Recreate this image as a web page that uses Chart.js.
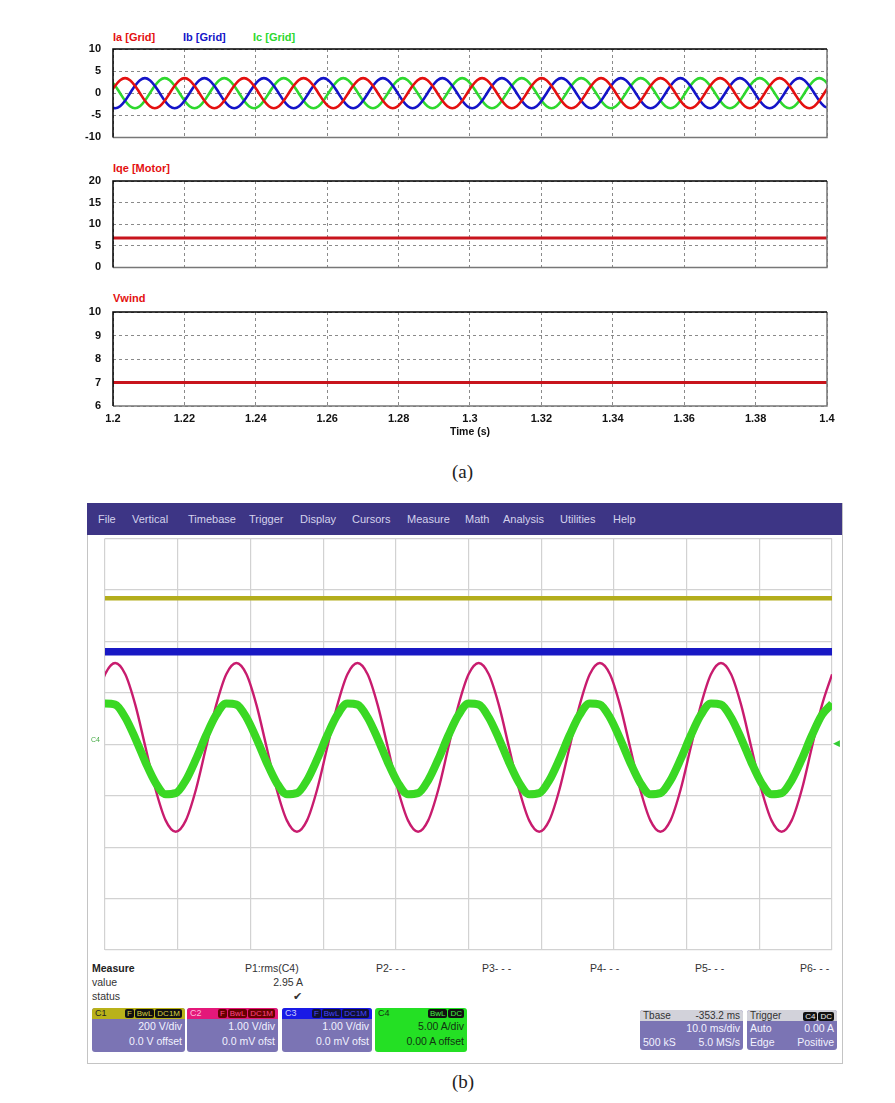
<!DOCTYPE html>
<html>
<head>
<meta charset="utf-8">
<script src="https://cdn.jsdelivr.net/npm/chart.js@4.4.1/dist/chart.umd.min.js"></script>
<style>
body { margin:0; width:895px; height:1103px; background:#fff; position:relative; overflow:hidden; font-family:"Liberation Sans", Arial, sans-serif; }
canvas { position:absolute; }
.lbl { position:absolute; font-weight:bold; font-size:11px; line-height:12px; }
.cap { position:absolute; font-family:"Liberation Serif", serif; font-size:19px; color:#222; }
.menu { position:absolute; left:87px; top:503px; width:755px; height:32px; background:#3d3585; }
.menu span { position:absolute; top:10px; font-size:11px; color:#d4d2ec; }
.meas { position:absolute; font-size:10.5px; color:#333; line-height:12px; }
.box { position:absolute; top:1008px; height:44px; border-radius:3px; overflow:hidden; background:#7b74b4; color:#f2f2ff; font-size:10.5px; }
.box .hd { height:11px; line-height:11px; font-size:9px; padding:0 3px; display:flex; justify-content:space-between; align-items:center; }
.box .hd i { font-style:normal; background:#111; border-radius:2px; padding:0 2px; margin-left:1px; font-size:8px; line-height:9px; }
.box .ln { display:flex; justify-content:space-between; padding:0 3px; line-height:15px; }
</style>
</head>
<body>

<div class="lbl" style="left:113px;top:31px;color:#e41010;">Ia [Grid]</div>
<div class="lbl" style="left:183px;top:31px;color:#1414c8;">Ib [Grid]</div>
<div class="lbl" style="left:253px;top:31px;color:#2ed82e;">Ic [Grid]</div>
<div class="lbl" style="left:113px;top:162px;color:#e41010;">Iqe [Motor]</div>
<div class="lbl" style="left:113px;top:292px;color:#e41010;">Vwind</div>

<canvas id="sim1" width="800" height="126" style="left:50px;top:30px;"></canvas>
<canvas id="sim2" width="800" height="126" style="left:50px;top:160px;"></canvas>
<canvas id="sim3" width="800" height="150" style="left:50px;top:290px;"></canvas>

<div class="cap" style="left:452px;top:461px;">(a)</div>

<div style="position:absolute;left:87px;top:503px;width:754px;height:559px;border:1px solid #c4c4c4;"></div>
<div class="menu">
  <span style="left:11px;">File</span>
  <span style="left:45px;">Vertical</span>
  <span style="left:101px;">Timebase</span>
  <span style="left:162px;">Trigger</span>
  <span style="left:213px;">Display</span>
  <span style="left:265px;">Cursors</span>
  <span style="left:320px;">Measure</span>
  <span style="left:378px;">Math</span>
  <span style="left:416px;">Analysis</span>
  <span style="left:473px;">Utilities</span>
  <span style="left:526px;">Help</span>
</div>

<canvas id="scope" width="754" height="416" style="left:87px;top:536px;"></canvas>
<div style="position:absolute;left:91px;top:736px;font-size:7px;color:#4a4;">C4</div>
<div style="position:absolute;left:833px;top:738px;font-size:9px;color:#3c3;">&#9664;</div>

<div class="meas" style="left:92px;top:962px;font-weight:bold;color:#222;">Measure</div>
<div class="meas" style="left:92px;top:976px;">value</div>
<div class="meas" style="left:92px;top:990px;">status</div>
<div class="meas" style="left:245px;top:962px;">P1:rms(C4)</div>
<div class="meas" style="left:262px;top:976px;width:41px;text-align:right;">2.95 A</div>
<div class="meas" style="left:293px;top:990px;font-size:11px;">&#10004;</div>
<div class="meas" style="left:376px;top:962px;">P2- - -</div>
<div class="meas" style="left:482px;top:962px;">P3- - -</div>
<div class="meas" style="left:590px;top:962px;">P4- - -</div>
<div class="meas" style="left:695px;top:962px;">P5- - -</div>
<div class="meas" style="left:800px;top:962px;">P6- - -</div>

<div class="box" style="left:92px;width:93px;">
  <div class="hd" style="background:#b9b21a;color:#222;"><span>C1</span><span><i style="color:#d8d040;">F</i><i style="color:#d8d040;">BwL</i><i style="color:#d8d040;">DC1M</i></span></div>
  <div class="ln"><span></span><span>200 V/div</span></div>
  <div class="ln"><span></span><span>0.0 V offset</span></div>
</div>
<div class="box" style="left:187px;width:91px;">
  <div class="hd" style="background:#e4187a;color:#fbd;"><span>C2</span><span><i style="color:#f48;background:#600;">F</i><i style="color:#f48;background:#600;">BwL</i><i style="color:#f48;background:#600;">DC1M</i></span></div>
  <div class="ln"><span></span><span>1.00 V/div</span></div>
  <div class="ln"><span></span><span>0.0 mV ofst</span></div>
</div>
<div class="box" style="left:282px;width:90px;">
  <div class="hd" style="background:#1a1ae6;color:#ccf;"><span>C3</span><span><i style="color:#44f;background:#113;">F</i><i style="color:#44f;background:#113;">BwL</i><i style="color:#44f;background:#113;">DC1M</i></span></div>
  <div class="ln"><span></span><span>1.00 V/div</span></div>
  <div class="ln"><span></span><span>0.0 mV ofst</span></div>
</div>
<div class="box" style="left:375px;width:92px;background:#24e024;color:#113311;">
  <div class="hd" style="color:#113311;"><span>C4</span><span><i style="color:#4e4;">BwL</i><i style="color:#4e4;">DC</i></span></div>
  <div class="ln"><span></span><span>5.00 A/div</span></div>
  <div class="ln"><span></span><span>0.00 A offset</span></div>
</div>
<div class="box" style="left:640px;top:1010px;width:103px;height:40px;">
  <div class="hd" style="background:#d2d2da;color:#333;font-size:10px;"><span>Tbase</span><span>-353.2 ms</span></div>
  <div class="ln" style="line-height:14px;"><span></span><span>10.0 ms/div</span></div>
  <div class="ln" style="line-height:14px;"><span>500 kS</span><span>5.0 MS/s</span></div>
</div>
<div class="box" style="left:747px;top:1010px;width:90px;height:40px;">
  <div class="hd" style="background:#d2d2da;color:#333;font-size:10px;"><span>Trigger</span><span><i style="color:#eee;">C4</i><i style="color:#eee;">DC</i></span></div>
  <div class="ln" style="line-height:14px;"><span>Auto</span><span>0.00 A</span></div>
  <div class="ln" style="line-height:14px;"><span>Edge</span><span>Positive</span></div>
</div>

<div class="cap" style="left:452px;top:1071px;">(b)</div>

<script>
// (a) simulation: grid currents, sampled every 30 deg of a 60 Hz cycle
var simTime = [
  1.19921, 1.20060, 1.20199, 1.20338, 1.20477, 1.20616, 1.20755, 1.20894, 1.21032, 1.21171, 1.21310, 1.21449,
  1.21588, 1.21727, 1.21866, 1.22005, 1.22144, 1.22282, 1.22421, 1.22560, 1.22699, 1.22838, 1.22977, 1.23116,
  1.23255, 1.23394, 1.23533, 1.23671, 1.23810, 1.23949, 1.24088, 1.24227, 1.24366, 1.24505, 1.24644, 1.24782,
  1.24921, 1.25060, 1.25199, 1.25338, 1.25477, 1.25616, 1.25755, 1.25894, 1.26032, 1.26171, 1.26310, 1.26449,
  1.26588, 1.26727, 1.26866, 1.27005, 1.27144, 1.27282, 1.27421, 1.27560, 1.27699, 1.27838, 1.27977, 1.28116,
  1.28255, 1.28394, 1.28533, 1.28671, 1.28810, 1.28949, 1.29088, 1.29227, 1.29366, 1.29505, 1.29644, 1.29782,
  1.29921, 1.30060, 1.30199, 1.30338, 1.30477, 1.30616, 1.30755, 1.30894, 1.31032, 1.31171, 1.31310, 1.31449,
  1.31588, 1.31727, 1.31866, 1.32005, 1.32144, 1.32282, 1.32421, 1.32560, 1.32699, 1.32838, 1.32977, 1.33116,
  1.33255, 1.33394, 1.33533, 1.33671, 1.33810, 1.33949, 1.34088, 1.34227, 1.34366, 1.34505, 1.34644, 1.34782,
  1.34921, 1.35060, 1.35199, 1.35338, 1.35477, 1.35616, 1.35755, 1.35894, 1.36032, 1.36171, 1.36310, 1.36449,
  1.36588, 1.36727, 1.36866, 1.37005, 1.37144, 1.37282, 1.37421, 1.37560, 1.37699, 1.37838, 1.37977, 1.38116,
  1.38255, 1.38394, 1.38533, 1.38671, 1.38810, 1.38949, 1.39088, 1.39227, 1.39366, 1.39505, 1.39644, 1.39782,
  1.39921, 1.40060
];
var iaGrid = [
  0, 1.7, 2.94, 3.4, 2.94, 1.7, 0, -1.7, -2.94, -3.4, -2.94, -1.7,
  0, 1.7, 2.94, 3.4, 2.94, 1.7, 0, -1.7, -2.94, -3.4, -2.94, -1.7,
  0, 1.7, 2.94, 3.4, 2.94, 1.7, 0, -1.7, -2.94, -3.4, -2.94, -1.7,
  0, 1.7, 2.94, 3.4, 2.94, 1.7, 0, -1.7, -2.94, -3.4, -2.94, -1.7,
  0, 1.7, 2.94, 3.4, 2.94, 1.7, 0, -1.7, -2.94, -3.4, -2.94, -1.7,
  0, 1.7, 2.94, 3.4, 2.94, 1.7, 0, -1.7, -2.94, -3.4, -2.94, -1.7,
  0, 1.7, 2.94, 3.4, 2.94, 1.7, 0, -1.7, -2.94, -3.4, -2.94, -1.7,
  0, 1.7, 2.94, 3.4, 2.94, 1.7, 0, -1.7, -2.94, -3.4, -2.94, -1.7,
  0, 1.7, 2.94, 3.4, 2.94, 1.7, 0, -1.7, -2.94, -3.4, -2.94, -1.7,
  0, 1.7, 2.94, 3.4, 2.94, 1.7, 0, -1.7, -2.94, -3.4, -2.94, -1.7,
  0, 1.7, 2.94, 3.4, 2.94, 1.7, 0, -1.7, -2.94, -3.4, -2.94, -1.7,
  0, 1.7, 2.94, 3.4, 2.94, 1.7, 0, -1.7, -2.94, -3.4, -2.94, -1.7,
  0, 1.7
];
var ibGrid = [
  -2.94, -3.4, -2.94, -1.7, 0, 1.7, 2.94, 3.4, 2.94, 1.7, 0, -1.7,
  -2.94, -3.4, -2.94, -1.7, 0, 1.7, 2.94, 3.4, 2.94, 1.7, 0, -1.7,
  -2.94, -3.4, -2.94, -1.7, 0, 1.7, 2.94, 3.4, 2.94, 1.7, 0, -1.7,
  -2.94, -3.4, -2.94, -1.7, 0, 1.7, 2.94, 3.4, 2.94, 1.7, 0, -1.7,
  -2.94, -3.4, -2.94, -1.7, 0, 1.7, 2.94, 3.4, 2.94, 1.7, 0, -1.7,
  -2.94, -3.4, -2.94, -1.7, 0, 1.7, 2.94, 3.4, 2.94, 1.7, 0, -1.7,
  -2.94, -3.4, -2.94, -1.7, 0, 1.7, 2.94, 3.4, 2.94, 1.7, 0, -1.7,
  -2.94, -3.4, -2.94, -1.7, 0, 1.7, 2.94, 3.4, 2.94, 1.7, 0, -1.7,
  -2.94, -3.4, -2.94, -1.7, 0, 1.7, 2.94, 3.4, 2.94, 1.7, 0, -1.7,
  -2.94, -3.4, -2.94, -1.7, 0, 1.7, 2.94, 3.4, 2.94, 1.7, 0, -1.7,
  -2.94, -3.4, -2.94, -1.7, 0, 1.7, 2.94, 3.4, 2.94, 1.7, 0, -1.7,
  -2.94, -3.4, -2.94, -1.7, 0, 1.7, 2.94, 3.4, 2.94, 1.7, 0, -1.7,
  -2.94, -3.4
];
var icGrid = [
  2.94, 1.7, 0, -1.7, -2.94, -3.4, -2.94, -1.7, 0, 1.7, 2.94, 3.4,
  2.94, 1.7, 0, -1.7, -2.94, -3.4, -2.94, -1.7, 0, 1.7, 2.94, 3.4,
  2.94, 1.7, 0, -1.7, -2.94, -3.4, -2.94, -1.7, 0, 1.7, 2.94, 3.4,
  2.94, 1.7, 0, -1.7, -2.94, -3.4, -2.94, -1.7, 0, 1.7, 2.94, 3.4,
  2.94, 1.7, 0, -1.7, -2.94, -3.4, -2.94, -1.7, 0, 1.7, 2.94, 3.4,
  2.94, 1.7, 0, -1.7, -2.94, -3.4, -2.94, -1.7, 0, 1.7, 2.94, 3.4,
  2.94, 1.7, 0, -1.7, -2.94, -3.4, -2.94, -1.7, 0, 1.7, 2.94, 3.4,
  2.94, 1.7, 0, -1.7, -2.94, -3.4, -2.94, -1.7, 0, 1.7, 2.94, 3.4,
  2.94, 1.7, 0, -1.7, -2.94, -3.4, -2.94, -1.7, 0, 1.7, 2.94, 3.4,
  2.94, 1.7, 0, -1.7, -2.94, -3.4, -2.94, -1.7, 0, 1.7, 2.94, 3.4,
  2.94, 1.7, 0, -1.7, -2.94, -3.4, -2.94, -1.7, 0, 1.7, 2.94, 3.4,
  2.94, 1.7, 0, -1.7, -2.94, -3.4, -2.94, -1.7, 0, 1.7, 2.94, 3.4,
  2.94, 1.7
];
var flatTime = [1.2, 1.4];
var iqeMotor = [6.8, 6.8];
var vWind = [7, 7];

// (b) scope traces, time in ms (10 ms/div), values in divisions from centre
var scopeTime = [
  -2.77, -1.38, 0.01, 1.40, 2.79, 4.18, 5.57, 6.96, 8.34, 9.73, 11.12, 12.51,
  13.90, 15.29, 16.68, 18.07, 19.46, 20.84, 22.23, 23.62, 25.01, 26.40, 27.79, 29.18,
  30.57, 31.96, 33.35, 34.73, 36.12, 37.51, 38.90, 40.29, 41.68, 43.07, 44.46, 45.85,
  47.23, 48.62, 50.01, 51.40, 52.79, 54.18, 55.57, 56.96, 58.34, 59.73, 61.12, 62.51,
  63.90, 65.29, 66.68, 68.07, 69.46, 70.84, 72.23, 73.62, 75.01, 76.40, 77.79, 79.18,
  80.57, 81.96, 83.35, 84.73, 86.12, 87.51, 88.90, 90.29, 91.68, 93.07, 94.46, 95.85,
  97.23, 98.62, 100.01
];
var c2Trace = [
  -0.06, 0.76, 1.36, 1.58, 1.36, 0.76, -0.06, -0.88, -1.48, -1.70, -1.48, -0.88,
  -0.06, 0.76, 1.36, 1.58, 1.36, 0.76, -0.06, -0.88, -1.48, -1.70, -1.48, -0.88,
  -0.06, 0.76, 1.36, 1.58, 1.36, 0.76, -0.06, -0.88, -1.48, -1.70, -1.48, -0.88,
  -0.06, 0.76, 1.36, 1.58, 1.36, 0.76, -0.06, -0.88, -1.48, -1.70, -1.48, -0.88,
  -0.06, 0.76, 1.36, 1.58, 1.36, 0.76, -0.06, -0.88, -1.48, -1.70, -1.48, -0.88,
  -0.06, 0.76, 1.36, 1.58, 1.36, 0.76, -0.06, -0.88, -1.48, -1.70, -1.48, -0.88,
  -0.06, 0.76, 1.36
];
var c4Trace = [
  0.17, 0.57, 0.79, 0.77, 0.52, 0.11, -0.35, -0.75, -0.97, -0.95, -0.70, -0.29,
  0.17, 0.57, 0.79, 0.77, 0.52, 0.11, -0.35, -0.75, -0.97, -0.95, -0.70, -0.29,
  0.17, 0.57, 0.79, 0.77, 0.52, 0.11, -0.35, -0.75, -0.97, -0.95, -0.70, -0.29,
  0.17, 0.57, 0.79, 0.77, 0.52, 0.11, -0.35, -0.75, -0.97, -0.95, -0.70, -0.29,
  0.17, 0.57, 0.79, 0.77, 0.52, 0.11, -0.35, -0.75, -0.97, -0.95, -0.70, -0.29,
  0.17, 0.57, 0.79, 0.77, 0.52, 0.11, -0.35, -0.75, -0.97, -0.95, -0.70, -0.29,
  0.17, 0.57, 0.79
];
var flatScopeTime = [0, 100];
var c1Trace = [2.84, 2.84];
var c3Trace = [1.8, 1.8];

function pts(xs, ys) {
  return xs.map(function(x, i) { return { x: x, y: ys[i] }; });
}

var tickFont = { family: 'Liberation Sans', size: 11, weight: 'bold' };

// black top/left, grey bottom/right frame round the plot area
var simFrame = {
  id: 'simFrame',
  afterDraw: function(chart) {
    var a = chart.chartArea, c = chart.ctx;
    c.save();
    c.lineWidth = 1.5;
    c.strokeStyle = '#777';
    c.beginPath(); c.moveTo(a.left, a.bottom); c.lineTo(a.right, a.bottom); c.lineTo(a.right, a.top); c.stroke();
    c.strokeStyle = '#000';
    c.beginPath(); c.moveTo(a.left, a.bottom); c.lineTo(a.left, a.top); c.lineTo(a.right, a.top); c.stroke();
    c.restore();
  }
};

function simLine(data, color, width) {
  return { data: data, borderColor: color, borderWidth: width, pointRadius: 0, fill: false, tension: 0.3 };
}

function simChart(id, datasets, ymin, ymax, ystep, padTop, showX) {
  return new Chart(document.getElementById(id), {
    type: 'line',
    data: { datasets: datasets },
    options: {
      responsive: false,
      animation: false,
      devicePixelRatio: 1,
      layout: { padding: { top: padTop, right: 23, left: 0, bottom: 0 } },
      plugins: { legend: { display: false }, tooltip: { enabled: false } },
      scales: {
        x: {
          type: 'linear', min: 1.2, max: 1.4,
          afterFit: function(s) { s.height = showX ? 34 : 7; },
          ticks: {
            display: showX, stepSize: 0.02, padding: 6, color: '#111', font: tickFont, maxRotation: 0,
            callback: function(v) { return String(Math.round(v * 100) / 100); }
          },
          grid: { color: '#8a8a8a', drawTicks: false },
          border: { display: false, dash: [3, 3] },
          title: { display: showX, text: 'Time (s)', color: '#111', font: { family: 'Liberation Sans', size: 10.5, weight: 'bold' }, padding: { top: 0, bottom: 2 } }
        },
        y: {
          min: ymin, max: ymax,
          afterFit: function(s) { s.width = 63; },
          ticks: { stepSize: ystep, padding: 12, color: '#111', font: tickFont },
          grid: { color: '#8a8a8a', drawTicks: false },
          border: { display: false, dash: [3, 3] }
        }
      }
    },
    plugins: [simFrame]
  });
}

simChart('sim1', [
  simLine(pts(simTime, iaGrid), '#e41010', 2.6),
  simLine(pts(simTime, ibGrid), '#1414c8', 2.6),
  simLine(pts(simTime, icGrid), '#2ed82e', 2.6)
], -10, 10, 5, 19, false);

simChart('sim2', [
  simLine(pts(flatTime, iqeMotor), '#c8141c', 3)
], 0, 20, 5, 21, false);

simChart('sim3', [
  simLine(pts(flatTime, vWind), '#c8141c', 3)
], 6, 10, 1, 22, true);

// oscilloscope screen
function scopeLine(data, color, width) {
  return { data: data, borderColor: color, borderWidth: width, pointRadius: 0, fill: false, cubicInterpolationMode: 'monotone', borderCapStyle: 'butt' };
}

new Chart(document.getElementById('scope'), {
  type: 'line',
  data: {
    datasets: [
      scopeLine(pts(flatScopeTime, c1Trace), '#b3ad1c', 4.5),
      scopeLine(pts(flatScopeTime, c3Trace), '#1818c4', 7.5),
      scopeLine(pts(scopeTime, c4Trace), '#3ad824', 8),
      scopeLine(pts(scopeTime, c2Trace), '#c81c6e', 2.4)
    ]
  },
  options: {
    responsive: false,
    animation: false,
    devicePixelRatio: 1,
    layout: { padding: { top: 2.5, right: 9, left: 0, bottom: 2 } },
    plugins: { legend: { display: false }, tooltip: { enabled: false } },
    scales: {
      x: {
        type: 'linear', min: 0, max: 100,
        afterFit: function(s) { s.height = 0; },
        ticks: { display: false, stepSize: 10 },
        grid: { color: '#d2d2d2', lineWidth: 1.2, drawTicks: false },
        border: { display: false }
      },
      y: {
        min: -4, max: 4,
        afterFit: function(s) { s.width = 18; },
        ticks: { display: false, stepSize: 1 },
        grid: { color: '#d2d2d2', lineWidth: 1.2, drawTicks: false },
        border: { display: false }
      }
    }
  }
});
</script>
</body>
</html>
